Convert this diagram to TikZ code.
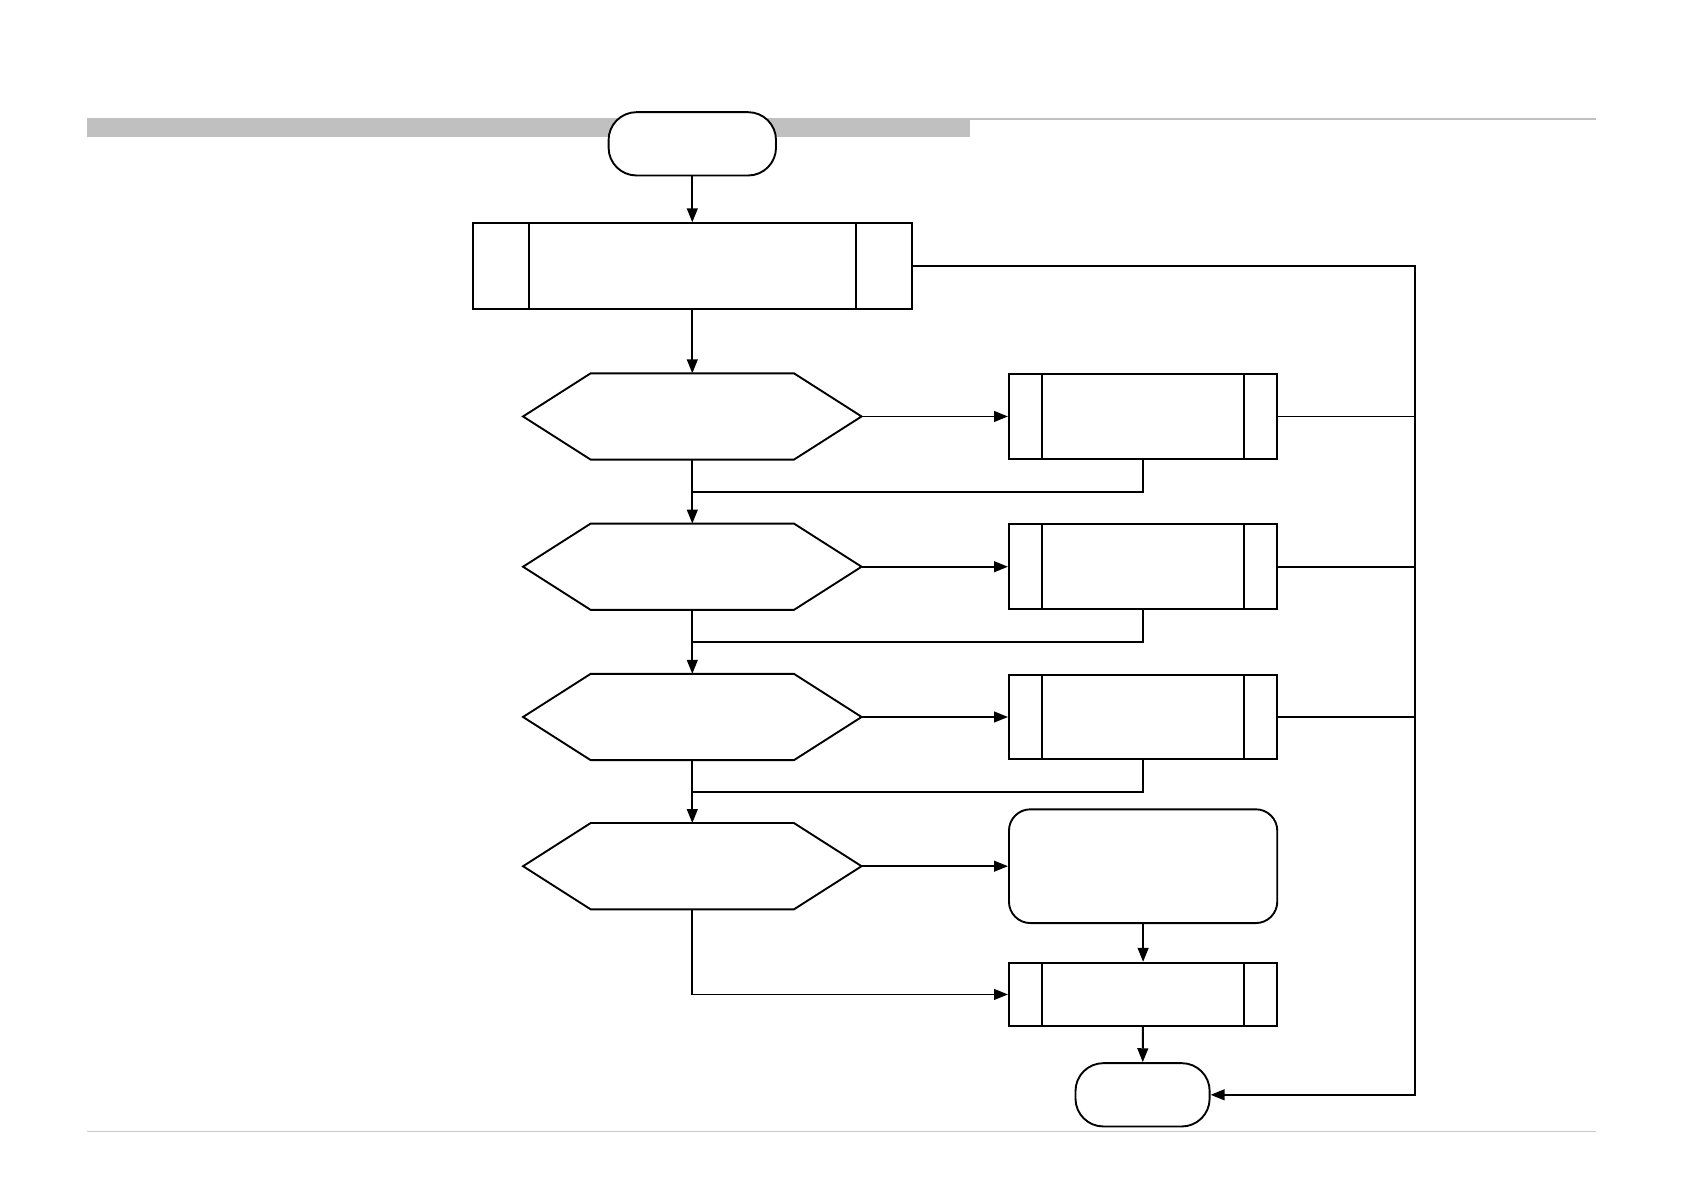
\documentclass[tikz,border=0pt]{standalone}
\usepackage{xcolor}
\usepackage{tikz}
\usetikzlibrary{arrows.meta,calc,positioning}
\definecolor{barra}{RGB}{192,192,192}
\definecolor{grisclaro}{RGB}{200,200,200}
\tikzset{
  flecha/.style={-{Triangle[length=1.3mm,width=1.0mm]},line width=0.5pt},
  trazo/.style={line width=0.5pt},
  terminal/.style={draw,line width=0.5pt,fill=white,rounded corners=2.6mm,minimum height=5.9mm,inner sep=0pt},
  predef/.style={draw,line width=0.5pt,fill=white,minimum height=7.9mm,minimum width=25mm,inner sep=0pt,
    path picture={
      \draw[line width=0.5pt] ([xshift=#1]path picture bounding box.north west) -- ([xshift=#1]path picture bounding box.south west);
      \draw[line width=0.5pt] ([xshift=-#1]path picture bounding box.north east) -- ([xshift=-#1]path picture bounding box.south east);
    }},
  decision/.style={minimum width=31.4mm,minimum height=7.9mm,inner sep=0pt},
  suave/.style={draw,line width=0.5pt,rounded corners=2mm,minimum width=25mm,minimum height=10.6mm,inner sep=0pt}
}
\begin{document}
\begin{tikzpicture}[x=0.1mm,y=-0.1mm]
\useasboundingbox (0,0) rectangle (1568,1110);
% cabecera y pie
\fill[barra] (81,110) rectangle (904,128);
\draw[barra,line width=0.6pt] (904,111) -- (1487,111);
\draw[grisclaro,line width=0.4pt] (81,1054) -- (1487,1054);
% nodos
\node[terminal,minimum width=15.6mm] (inicio) at (645,134) {};
\node[predef=5.2mm,minimum width=40.9mm,minimum height=8mm] (p0) at (645,248) {};
\foreach \i/\y in {1/388,2/528,3/668,4/807}
  \node[decision] (d\i) at (645,\y) {};
\foreach \i/\y in {1/388,2/528,3/668}
  \node[predef=3.1mm] (b\i) at (1065,\y) {};
\node[suave] (r4) at (1065,807) {};
\node[predef=3.1mm,minimum height=5.9mm] (b4) at (1065,926.5) {};
\node[terminal,minimum width=12.5mm] (fin) at (1064.5,1020) {};
% hexagonos
\foreach \d in {d1,d2,d3,d4}
  \draw[trazo] (\d.west) -- ([xshift=6.3mm]\d.north west) -- ([xshift=-6.3mm]\d.north east)
    -- (\d.east) -- ([xshift=-6.3mm]\d.south east) -- ([xshift=6.3mm]\d.south west) -- cycle;
% uniones
\coordinate (bus) at (1318,1020);
\foreach \i/\y in {1/458,2/598,3/738}
  \coordinate (m\i) at (645,\y);
\draw[flecha] (inicio) -- (p0);
\draw[flecha] (p0) -- (d1.north);
\foreach \i/\j in {1/2,2/3,3/4}{
  \draw[flecha] (d\i.south) -- (d\j.north);
  \draw[flecha] (d\i.east) -- (b\i.west);
  \draw[trazo] (b\i.south) |- (m\i);
  \draw[trazo] (b\i.east) -- (bus |- b\i.east);
}
\draw[flecha] (d4.east) -- (r4.west);
\draw[flecha] (d4.south) |- (b4.west);
\draw[flecha] (r4) -- (b4);
\draw[flecha] (b4) -- (fin);
\draw[flecha] (p0.east) -| (bus) -- (fin.east);
\end{tikzpicture}
\end{document}
